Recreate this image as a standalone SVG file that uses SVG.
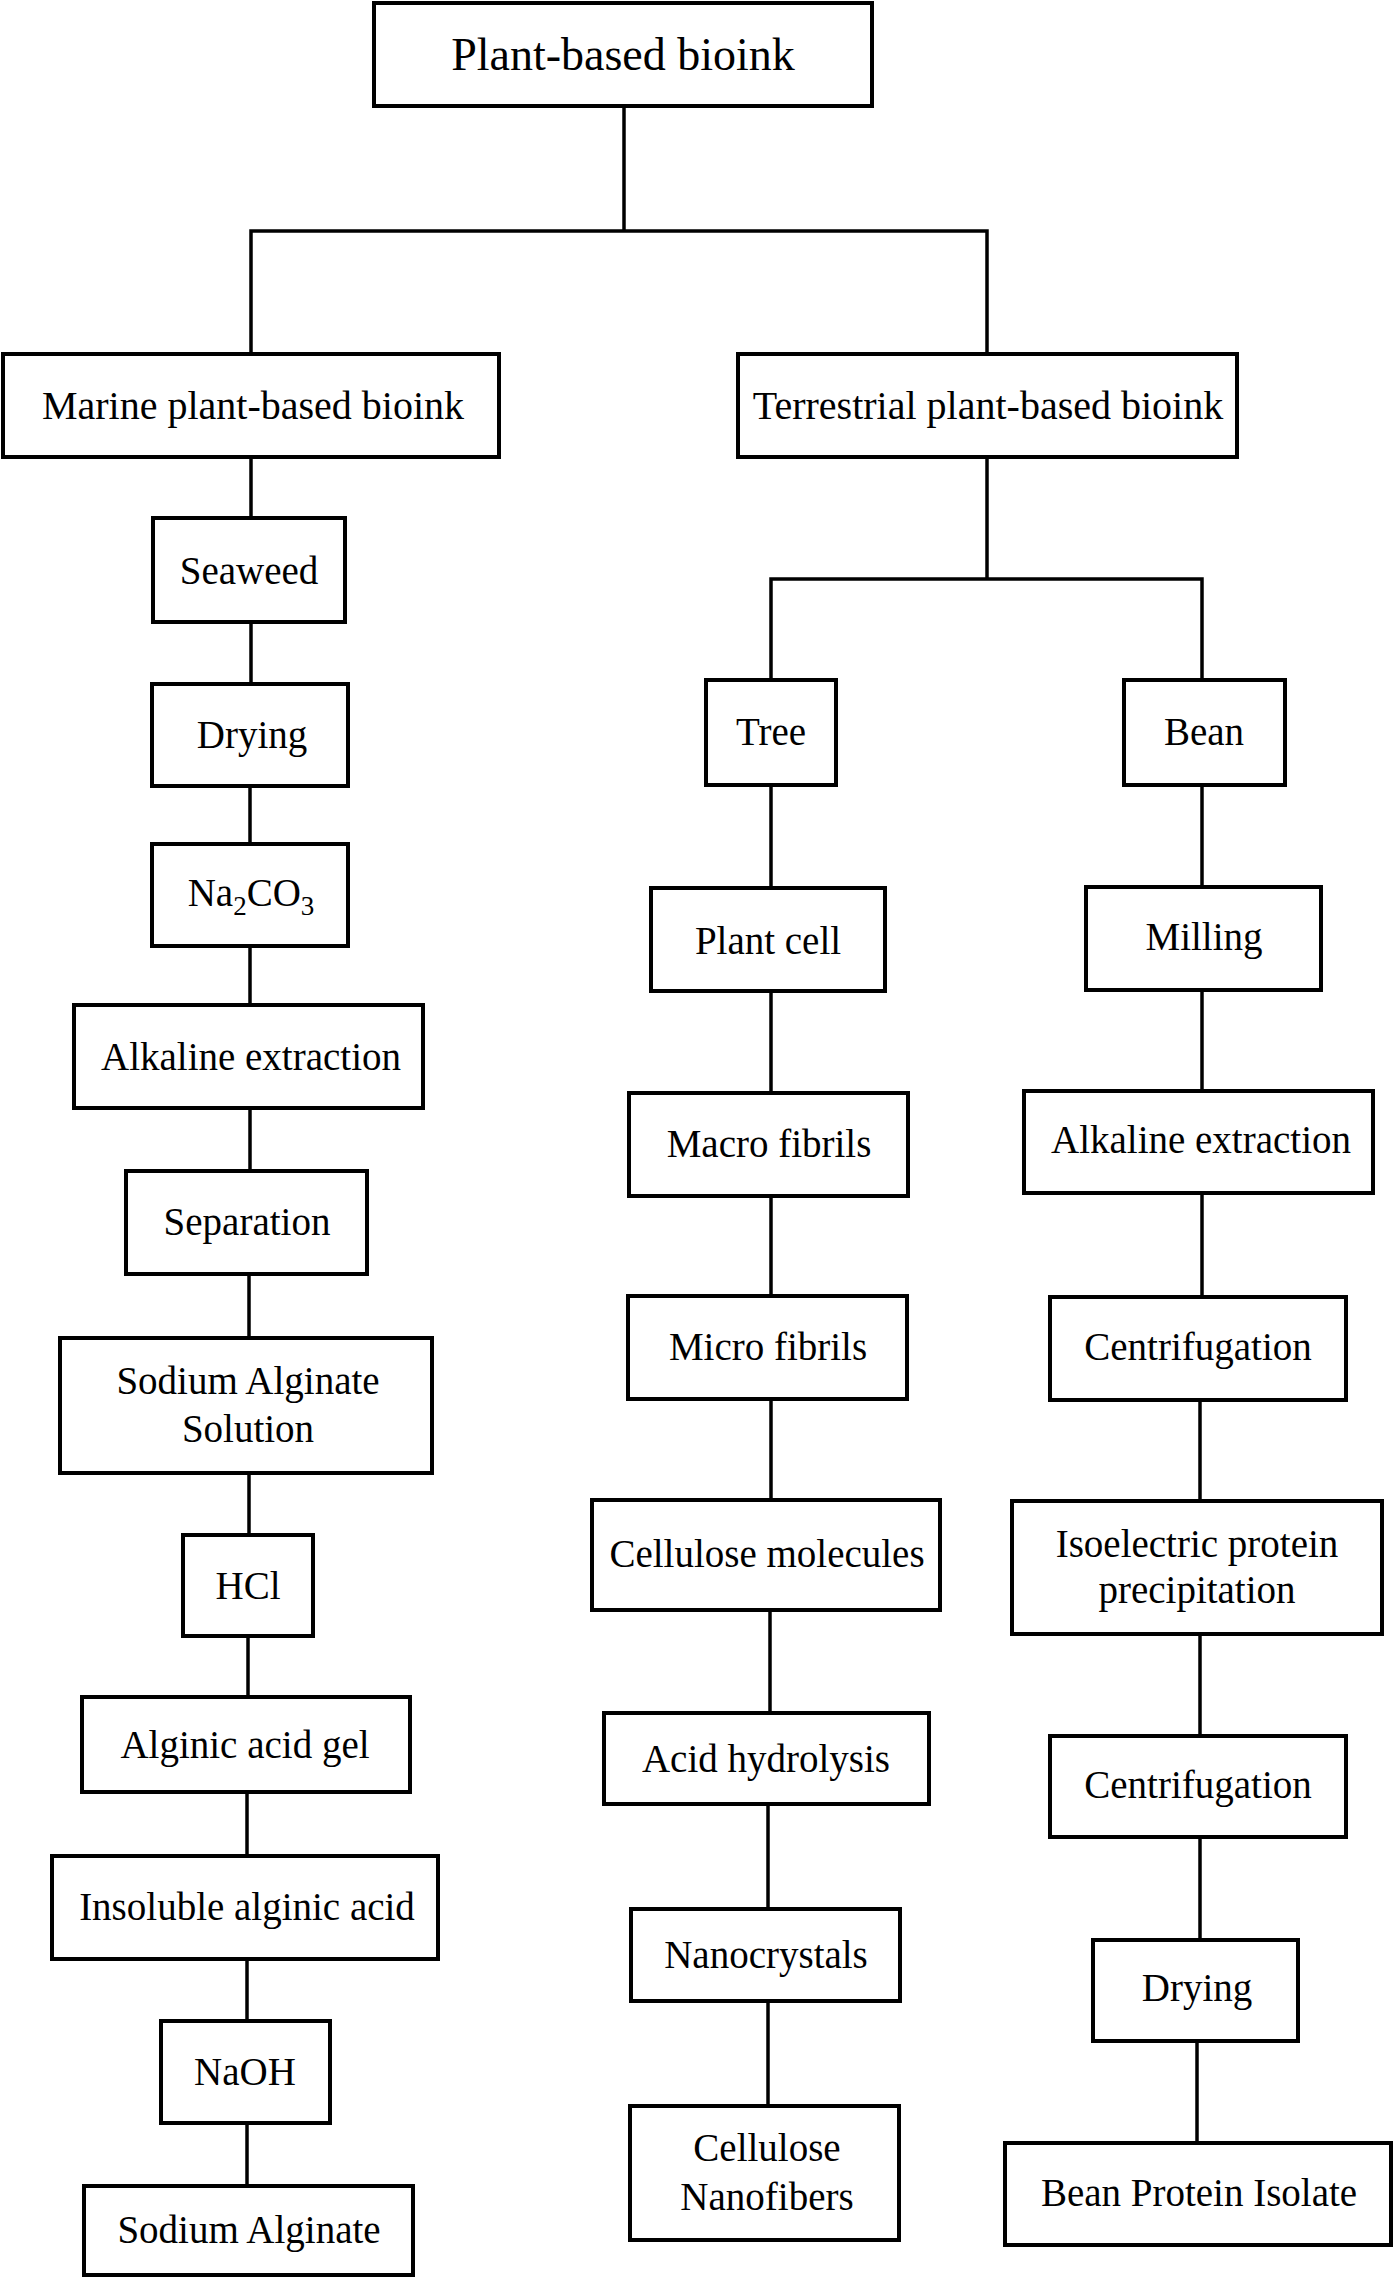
<svg xmlns="http://www.w3.org/2000/svg" width="1393" height="2281" viewBox="0 0 1393 2281">
<style>
.b{fill:#fff;stroke:#000;stroke-width:4}
.c line{stroke:#000;stroke-width:3.5;fill:none}
.c path{stroke:#000;stroke-width:3.5;fill:none}
text{font-family:"Liberation Serif","Times New Roman",serif;font-size:39px;fill:#000;text-anchor:middle}
.t0{font-size:46px}
.t1{font-size:40px}
</style>
<rect width="1393" height="2281" fill="#fff"/>
<g class="c" id="connectors">
<line x1="624" y1="106" x2="624" y2="231"/>
<path d="M251 354 V231 H987 V354"/>
<line x1="251" y1="457" x2="251" y2="518"/>
<line x1="251" y1="622" x2="251" y2="684"/>
<line x1="250" y1="786" x2="250" y2="844"/>
<line x1="250" y1="946" x2="250" y2="1005"/>
<line x1="250" y1="1108" x2="250" y2="1171"/>
<line x1="249" y1="1274" x2="249" y2="1338"/>
<line x1="249" y1="1473" x2="249" y2="1535"/>
<line x1="248" y1="1636" x2="248" y2="1697"/>
<line x1="247" y1="1792" x2="247" y2="1856"/>
<line x1="247" y1="1959" x2="247" y2="2021"/>
<line x1="247" y1="2123" x2="247" y2="2186"/>
<line x1="987" y1="457" x2="987" y2="579"/>
<path d="M771 680 V579 H1202 V680"/>
<line x1="771" y1="785" x2="771" y2="888"/>
<line x1="771" y1="991" x2="771" y2="1093"/>
<line x1="771" y1="1196" x2="771" y2="1296"/>
<line x1="771" y1="1399" x2="771" y2="1500"/>
<line x1="770" y1="1610" x2="770" y2="1713"/>
<line x1="768" y1="1804" x2="768" y2="1909"/>
<line x1="768" y1="2001" x2="768" y2="2106"/>
<line x1="1202" y1="785" x2="1202" y2="887"/>
<line x1="1202" y1="990" x2="1202" y2="1091"/>
<line x1="1202" y1="1193" x2="1202" y2="1297"/>
<line x1="1200" y1="1400" x2="1200" y2="1501"/>
<line x1="1200" y1="1634" x2="1200" y2="1736"/>
<line x1="1200" y1="1837" x2="1200" y2="1940"/>
<line x1="1197" y1="2041" x2="1197" y2="2143"/>
</g>
<g id="root"><rect class="b" x="374" y="3" width="498" height="103"/><text class="t0" x="623" y="70">Plant-based bioink</text></g>
<g id="marine"><rect class="b" x="3" y="354" width="496" height="103"/><text class="t1" x="253" y="419">Marine plant-based bioink</text></g>
<g id="terrestrial"><rect class="b" x="738" y="354" width="499" height="103"/><text class="t1" x="988" y="419">Terrestrial plant-based bioink</text></g>
<g id="seaweed"><rect class="b" x="153" y="518" width="192" height="104"/><text x="249" y="584">Seaweed</text></g>
<g id="drying-l"><rect class="b" x="152" y="684" width="196" height="102"/><text x="252" y="748">Drying</text></g>
<g id="na2co3"><rect class="b" x="152" y="844" width="196" height="102"/><text x="251" y="906">Na<tspan font-size="27" dy="9">2</tspan><tspan dy="-9">CO</tspan><tspan font-size="27" dy="9">3</tspan></text></g>
<g id="alkaline-l"><rect class="b" x="74" y="1005" width="349" height="103"/><text x="251" y="1070">Alkaline extraction</text></g>
<g id="separation"><rect class="b" x="126" y="1171" width="241" height="103"/><text x="247" y="1235">Separation</text></g>
<g id="sas"><rect class="b" x="60" y="1338" width="372" height="135"/><text x="248" y="1394">Sodium Alginate</text><text x="248" y="1442">Solution</text></g>
<g id="hcl"><rect class="b" x="183" y="1535" width="130" height="101"/><text x="248" y="1599">HCl</text></g>
<g id="alginic-gel"><rect class="b" x="82" y="1697" width="328" height="95"/><text x="245" y="1758">Alginic acid gel</text></g>
<g id="insoluble"><rect class="b" x="52" y="1856" width="386" height="103"/><text x="247" y="1920">Insoluble alginic acid</text></g>
<g id="naoh"><rect class="b" x="161" y="2021" width="169" height="102"/><text x="245" y="2085">NaOH</text></g>
<g id="sodium-alginate"><rect class="b" x="84" y="2186" width="329" height="89"/><text x="249" y="2243">Sodium Alginate</text></g>
<g id="tree"><rect class="b" x="706" y="680" width="130" height="105"/><text x="771" y="745">Tree</text></g>
<g id="plant-cell"><rect class="b" x="651" y="888" width="234" height="103"/><text x="768" y="954">Plant cell</text></g>
<g id="macro"><rect class="b" x="629" y="1093" width="279" height="103"/><text x="769" y="1157">Macro fibrils</text></g>
<g id="micro"><rect class="b" x="628" y="1296" width="279" height="103"/><text x="768" y="1360">Micro fibrils</text></g>
<g id="cellulose-mol"><rect class="b" x="592" y="1500" width="348" height="110"/><text x="767" y="1567">Cellulose molecules</text></g>
<g id="acid-hydrolysis"><rect class="b" x="604" y="1713" width="325" height="91"/><text x="766" y="1772">Acid hydrolysis</text></g>
<g id="nanocrystals"><rect class="b" x="631" y="1909" width="269" height="92"/><text x="766" y="1968">Nanocrystals</text></g>
<g id="cnf"><rect class="b" x="630" y="2106" width="269" height="134"/><text x="767" y="2161">Cellulose</text><text x="767" y="2210">Nanofibers</text></g>
<g id="bean"><rect class="b" x="1124" y="680" width="161" height="105"/><text x="1204" y="745">Bean</text></g>
<g id="milling"><rect class="b" x="1086" y="887" width="235" height="103"/><text x="1204" y="950">Milling</text></g>
<g id="alkaline-r"><rect class="b" x="1024" y="1091" width="349" height="102"/><text x="1201" y="1153">Alkaline extraction</text></g>
<g id="centrifugation-1"><rect class="b" x="1050" y="1297" width="296" height="103"/><text x="1198" y="1360">Centrifugation</text></g>
<g id="isoelectric"><rect class="b" x="1012" y="1501" width="370" height="133"/><text x="1197" y="1557">Isoelectric protein</text><text x="1197" y="1603">precipitation</text></g>
<g id="centrifugation-2"><rect class="b" x="1050" y="1736" width="296" height="101"/><text x="1198" y="1798">Centrifugation</text></g>
<g id="drying-r"><rect class="b" x="1093" y="1940" width="205" height="101"/><text x="1197" y="2001">Drying</text></g>
<g id="bpi"><rect class="b" x="1005" y="2143" width="386" height="102"/><text x="1199" y="2206">Bean Protein Isolate</text></g>
</svg>
